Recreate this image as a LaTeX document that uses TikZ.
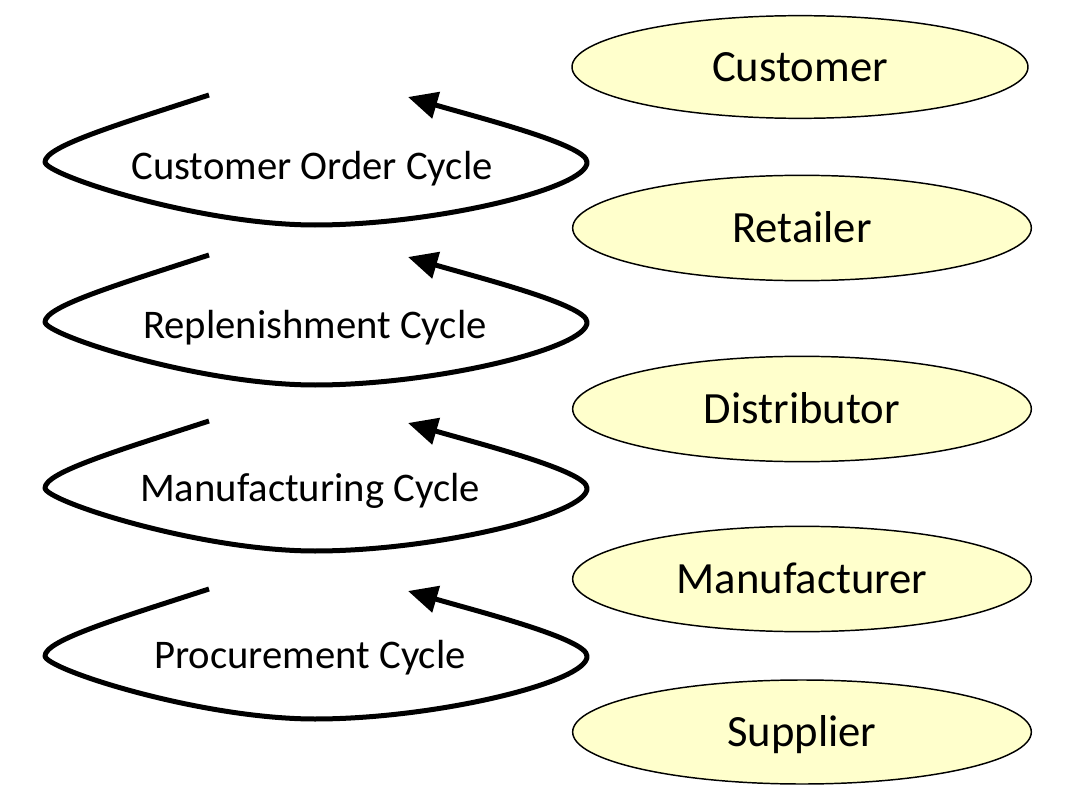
\documentclass[tikz,border=0pt]{standalone}
\usepackage{fontspec}
\setmainfont{Carlito}
\usetikzlibrary{arrows.meta,shapes.geometric}
\definecolor{ellfill}{HTML}{FFFFCC}
\tikzset{
  party/.style={ellipse, draw=black, line width=1.1pt, fill=ellfill, inner sep=0pt,
    minimum width=344pt, minimum height=79pt, font=\fontsize{33.5}{40}\selectfont,
    text height=21.6pt, text depth=0pt},
  cyclelabel/.style={inner sep=0pt, font=\fontsize{30.5}{36}\selectfont,
    text height=19.6pt, text depth=0pt},
  cycleline/.style={line width=3.75pt, line join=round, -{Triangle[length=22pt,width=20pt]}}
}
\newcommand\cycleloop[2]{%
  \begin{scope}[shift={(0,#2)}]
    \coordinate (#1s) at (209,95);
    \coordinate (#1l) at (45,162);
    \coordinate (#1b) at (315,225);
    \coordinate (#1r) at (587,162);
    \coordinate (#1t) at (408,97);
    \draw[cycleline] (#1s) .. controls (120,124) and (45,146) .. (#1l)
      .. controls (45,175) and (200,225) .. (#1b)
      .. controls (435,225) and (589,188) .. (#1r)
      .. controls (587,145) and (480,118) .. (#1t);
  \end{scope}}
\begin{document}
\begin{tikzpicture}[x=0.75pt,y=-0.75pt]
\path[use as bounding box] (0,0) rectangle (1076,792);
% parties
\node[party, minimum width=342pt, minimum height=77pt] (cust) at (800,67) {Customer};
\node[party] (ret) at (802,228) {Retailer};
\node[party] (dist) at (802,409) {Distributor};
\node[party] (manu) at (802,579) {Manufacturer};
\node[party, minimum height=78pt] (supp) at (802,732) {Supplier};
% cycles
\cycleloop{co}{0}
\cycleloop{re}{160}
\cycleloop{mf}{326}
\cycleloop{pr}{494}
\node[cyclelabel] (colab) at (312,166) {Customer Order Cycle};
\node[cyclelabel] (relab) at (315,325) {Replenishment Cycle};
\node[cyclelabel] (mflab) at (310,488) {Manufacturing Cycle};
\node[cyclelabel] (prlab) at (310,655) {Procurement Cycle};
\end{tikzpicture}
\end{document}
